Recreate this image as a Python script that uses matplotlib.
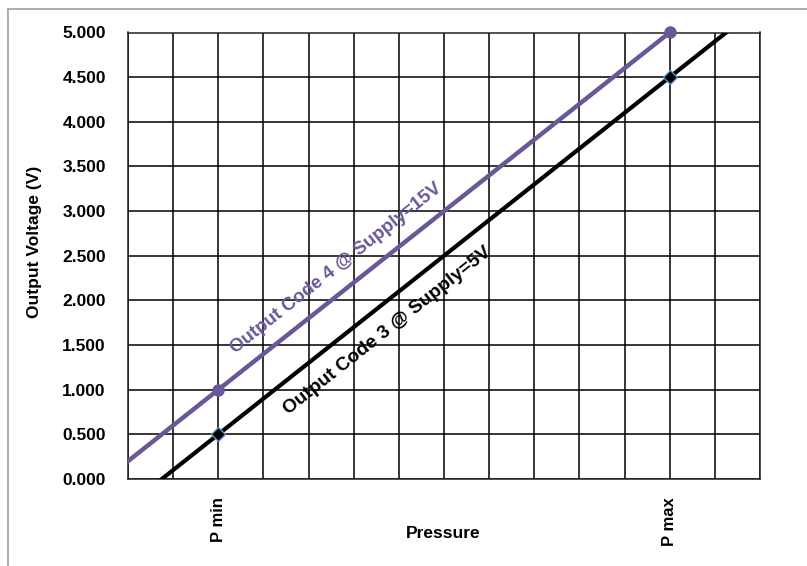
import matplotlib
matplotlib.use('Agg')
import matplotlib.pyplot as plt
import numpy as np
from matplotlib.lines import Line2D

# ---- data ----
x_range = [0, 14]
grid_positions = list(range(0, 15))
pressure_labels = ['P min', 'P max']
pressure_pos = [2, 12]
code4_values = [1.0, 5.0]
code3_values = [0.5, 4.5]
y_ticks = [0.0, 0.5, 1.0, 1.5, 2.0, 2.5, 3.0, 3.5, 4.0, 4.5, 5.0]
code4_label = 'Output Code 4 @ Supply=15V'
code3_label = 'Output Code 3 @ Supply=5V'
x_title = 'Pressure'
y_title = 'Output Voltage (V)'

FONT = ['Liberation Sans', 'DejaVu Sans']
plt.rcParams['font.family'] = FONT
plt.rcParams['font.weight'] = 'bold'

purple = '#6A5896'

W, H = 807, 566
fig = plt.figure(figsize=(W / 100, H / 100), dpi=100)
L, R, T, B = 128, 760, 32.5, 479
ax = fig.add_axes([L / W, 1 - B / H, (R - L) / W, (B - T) / H])

ax.set_xlim(*x_range)
ax.set_ylim(y_ticks[0], y_ticks[-1])

# grid
ax.set_xticks(grid_positions, minor=True)
ax.set_xticks(pressure_pos)
ax.set_xticklabels(pressure_labels, rotation=90, fontsize=12, fontweight='bold')
ax.set_yticks(y_ticks)
ax.set_yticklabels([f'{v:.3f}' for v in y_ticks], fontsize=12.5, fontweight='bold')
ax.grid(which='both', color='black', linewidth=1.1)
ax.set_axisbelow(True)
ax.tick_params(which='both', length=0)
ax.tick_params(axis='y', pad=16)
ax.tick_params(axis='x', pad=13)
for s in ax.spines.values():
    s.set_color('#222222')
    s.set_linewidth(1.1)

# trend lines through the two points, extended over the whole axis
xs = np.linspace(x_range[0], x_range[1], 200)
c4 = np.polyfit(pressure_pos, code4_values, 1)
c3 = np.polyfit(pressure_pos, code3_values, 1)
ax.plot(xs, np.polyval(c4, xs), color=purple, linewidth=3.2, zorder=3)
ax.plot(xs, np.polyval(c3, xs), color='black', linewidth=3.0, zorder=3)

# markers
ax.plot(pressure_pos, code4_values, linestyle='none', marker='o', markersize=8,
        color=purple, zorder=4, clip_on=False)
ax.plot(pressure_pos, code3_values, linestyle='none', marker='D', markersize=7.5,
        markerfacecolor='black', markeredgecolor='#5b8fd0', markeredgewidth=1.0,
        zorder=4, clip_on=False)

# rotated annotations
p1 = ax.transData.transform((0, np.polyval(c4, 0)))
p2 = ax.transData.transform((10, np.polyval(c4, 10)))
angle = np.degrees(np.arctan2(p2[1] - p1[1], p2[0] - p1[0]))
ax.text(4.61, 2.36, code4_label, color=purple, fontsize=13.5, fontweight='bold',
        rotation=angle, rotation_mode='anchor', ha='center', va='center', zorder=5)
ax.text(5.74, 1.66, code3_label, color='black', fontsize=13.8, fontweight='bold',
        rotation=angle, rotation_mode='anchor', ha='center', va='center', zorder=5)

# axis titles
fig.text(443.5 / W, 1 - 533 / H, x_title, ha='center', va='center',
         fontsize=12.5, fontweight='bold')
fig.text(35 / W, 1 - 241.5 / H, y_title, ha='center', va='center', rotation=90,
         fontsize=12.5, fontweight='bold')

# outer chart frame (cropped at right and bottom)
fig.add_artist(Line2D([8 / W, 8 / W], [1 - 9 / H, 0], color='#a0a0a0', linewidth=1.2))
fig.add_artist(Line2D([8 / W, 1], [1 - 9 / H, 1 - 9 / H], color='#a0a0a0', linewidth=1.2))

fig.savefig('out.png', dpi=100)
